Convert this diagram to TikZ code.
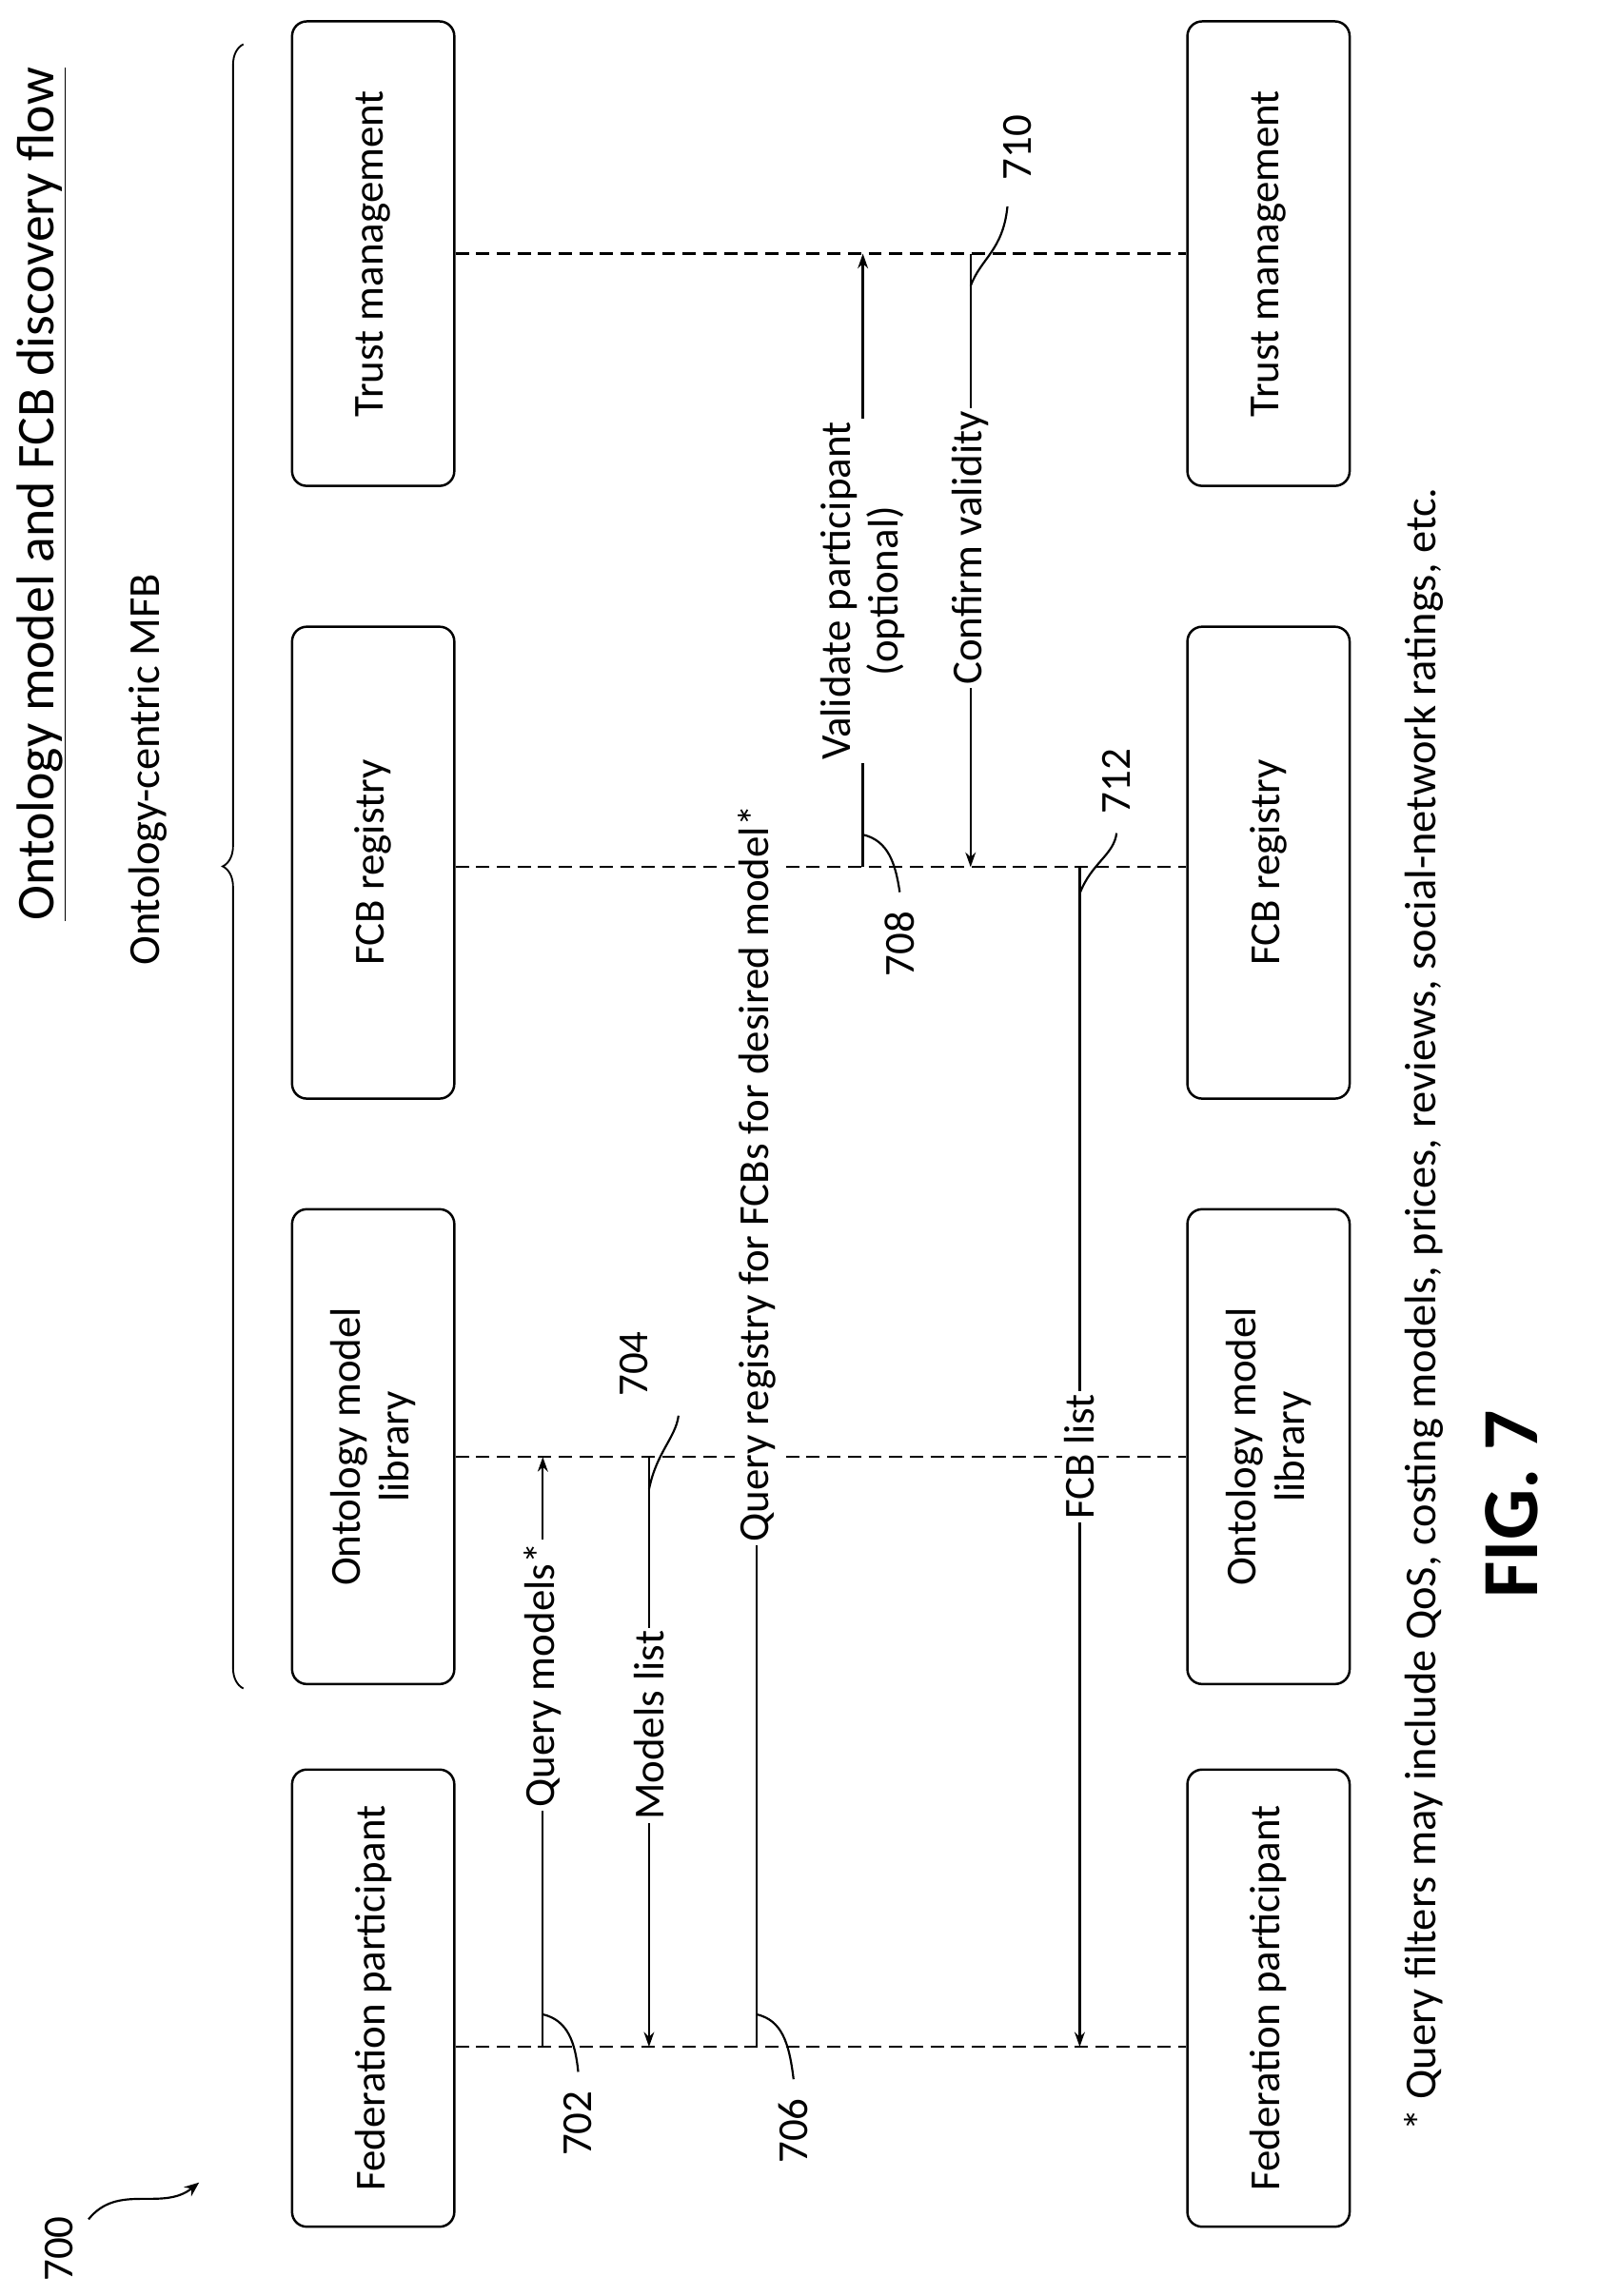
\documentclass[tikz,border=0pt]{standalone}
\usepackage{fontspec}
\setmainfont{Carlito}
\usetikzlibrary{arrows.meta,decorations.pathreplacing}
\begin{document}
\begin{tikzpicture}[x=1pt,y=-1pt,
 box/.style={draw,line width=1.6pt,rounded corners=10pt,minimum width=310pt,minimum height=110pt,rotate=90,font=\fontsize{29}{33}\selectfont,align=center},
 life/.style={line width=1.4pt,dash pattern=on 9pt off 5pt},
 msg/.style={line width=1.5pt,-{Stealth[length=10pt,width=7pt]}},
 lbl/.style={fill=white,rotate=90,font=\fontsize{29}{32}\selectfont,inner sep=2pt,align=center},
 num/.style={rotate=90,font=\fontsize{29}{33}\selectfont},
 lead/.style={line width=1.4pt}]
\useasboundingbox (0,0) rectangle (1083,1557);
\node[box] (fp1) at (253,1355) {Federation participant};
\node[box,minimum width=322pt] (ol1) at (253,981) {Ontology model\\library};
\node[box,minimum width=320pt] (fr1) at (253,585) {FCB registry};
\node[box,minimum width=315pt] (tm1) at (253,172) {Trust management};
\node[box] (fp2) at (860,1355) {Federation participant};
\node[box,minimum width=322pt] (ol2) at (860,981) {Ontology model\\library};
\node[box,minimum width=320pt] (fr2) at (860,585) {FCB registry};
\node[box,minimum width=315pt] (tm2) at (860,172) {Trust management};
\draw[life] (fp1.south |- 0,1388) -- (fp2.north |- 0,1388);
\draw[life] (ol1.south |- 0,988) -- (ol2.north |- 0,988);
\draw[life] (fr1.south |- 0,588) -- (fr2.north |- 0,588);
\draw[life] (tm1.south |- 0,172) -- (tm2.north |- 0,172);
\foreach \x in {368,440,513,585,658,732}{
 \coordinate (f\x) at (\x,1388); \coordinate (o\x) at (\x,988);
 \coordinate (r\x) at (\x,588); \coordinate (t\x) at (\x,172);}
\draw[msg] (f368) -- node[lbl,pos=0.63] {Query models*} (o368);
\draw[msg] (o440) -- node[lbl,pos=0.455] {Models list} (f440);
\draw[msg] (f513) -- node[lbl,pos=0.74] {Query registry for FCBs for desired model*} (r513);
\draw[msg] (r585) -- node[lbl,pos=0.45] {Validate participant\\(optional)} (t585);
\draw[msg] (t658) -- node[lbl,pos=0.48] {Confirm validity} (r658);
\draw[msg] (r732) -- node[lbl,pos=0.5] {FCB list} (f732);
\node[num] (n702) at (392,1440) {702};
\draw[lead] (368,1366) .. controls (385,1370) and (390,1385) .. (392,1405);
\node[num] (n704) at (430,925) {704};
\draw[lead] (440,1010) .. controls (445,985) and (458,975) .. (460,960);
\node[num] (n706) at (538,1445) {706};
\draw[lead] (513,1366) .. controls (530,1370) and (535,1385) .. (538,1410);
\node[num] (n708) at (610,640) {708};
\draw[lead] (585,566) .. controls (602,570) and (607,585) .. (610,605);
\node[num] (n710) at (690,100) {710};
\draw[lead] (658,194) .. controls (665,175) and (680,170) .. (683,140);
\node[num] (n712) at (757,530) {712};
\draw[lead] (732,606) .. controls (740,585) and (755,580) .. (757,565);
\node[rotate=90,font=\fontsize{36}{40}\selectfont] (title) at (28,335) {\underline{Ontology model and FCB discovery flow}};
\node[rotate=90,font=\fontsize{30}{34}\selectfont] (mfb) at (100,522) {Ontology-centric MFB};
\draw[line width=1.2pt,decoration={brace,amplitude=14pt},decorate] (165,1145) -- (165,30);
\node[num] (n700) at (40,1525) {700};
\draw[lead,-{Stealth[length=10pt,width=8pt]}] (60,1505) .. controls (80,1480) and (110,1500) .. (135,1480);
\node[rotate=90,font=\bfseries\fontsize{54}{60}\selectfont] (fig) at (1025,1020) {FIG. 7};
\node[rotate=90,font=\fontsize{30}{34}\selectfont] (foot) at (965,888) {* Query filters may include QoS, costing models, prices, reviews, social-network ratings, etc.};
\end{tikzpicture}
\end{document}
